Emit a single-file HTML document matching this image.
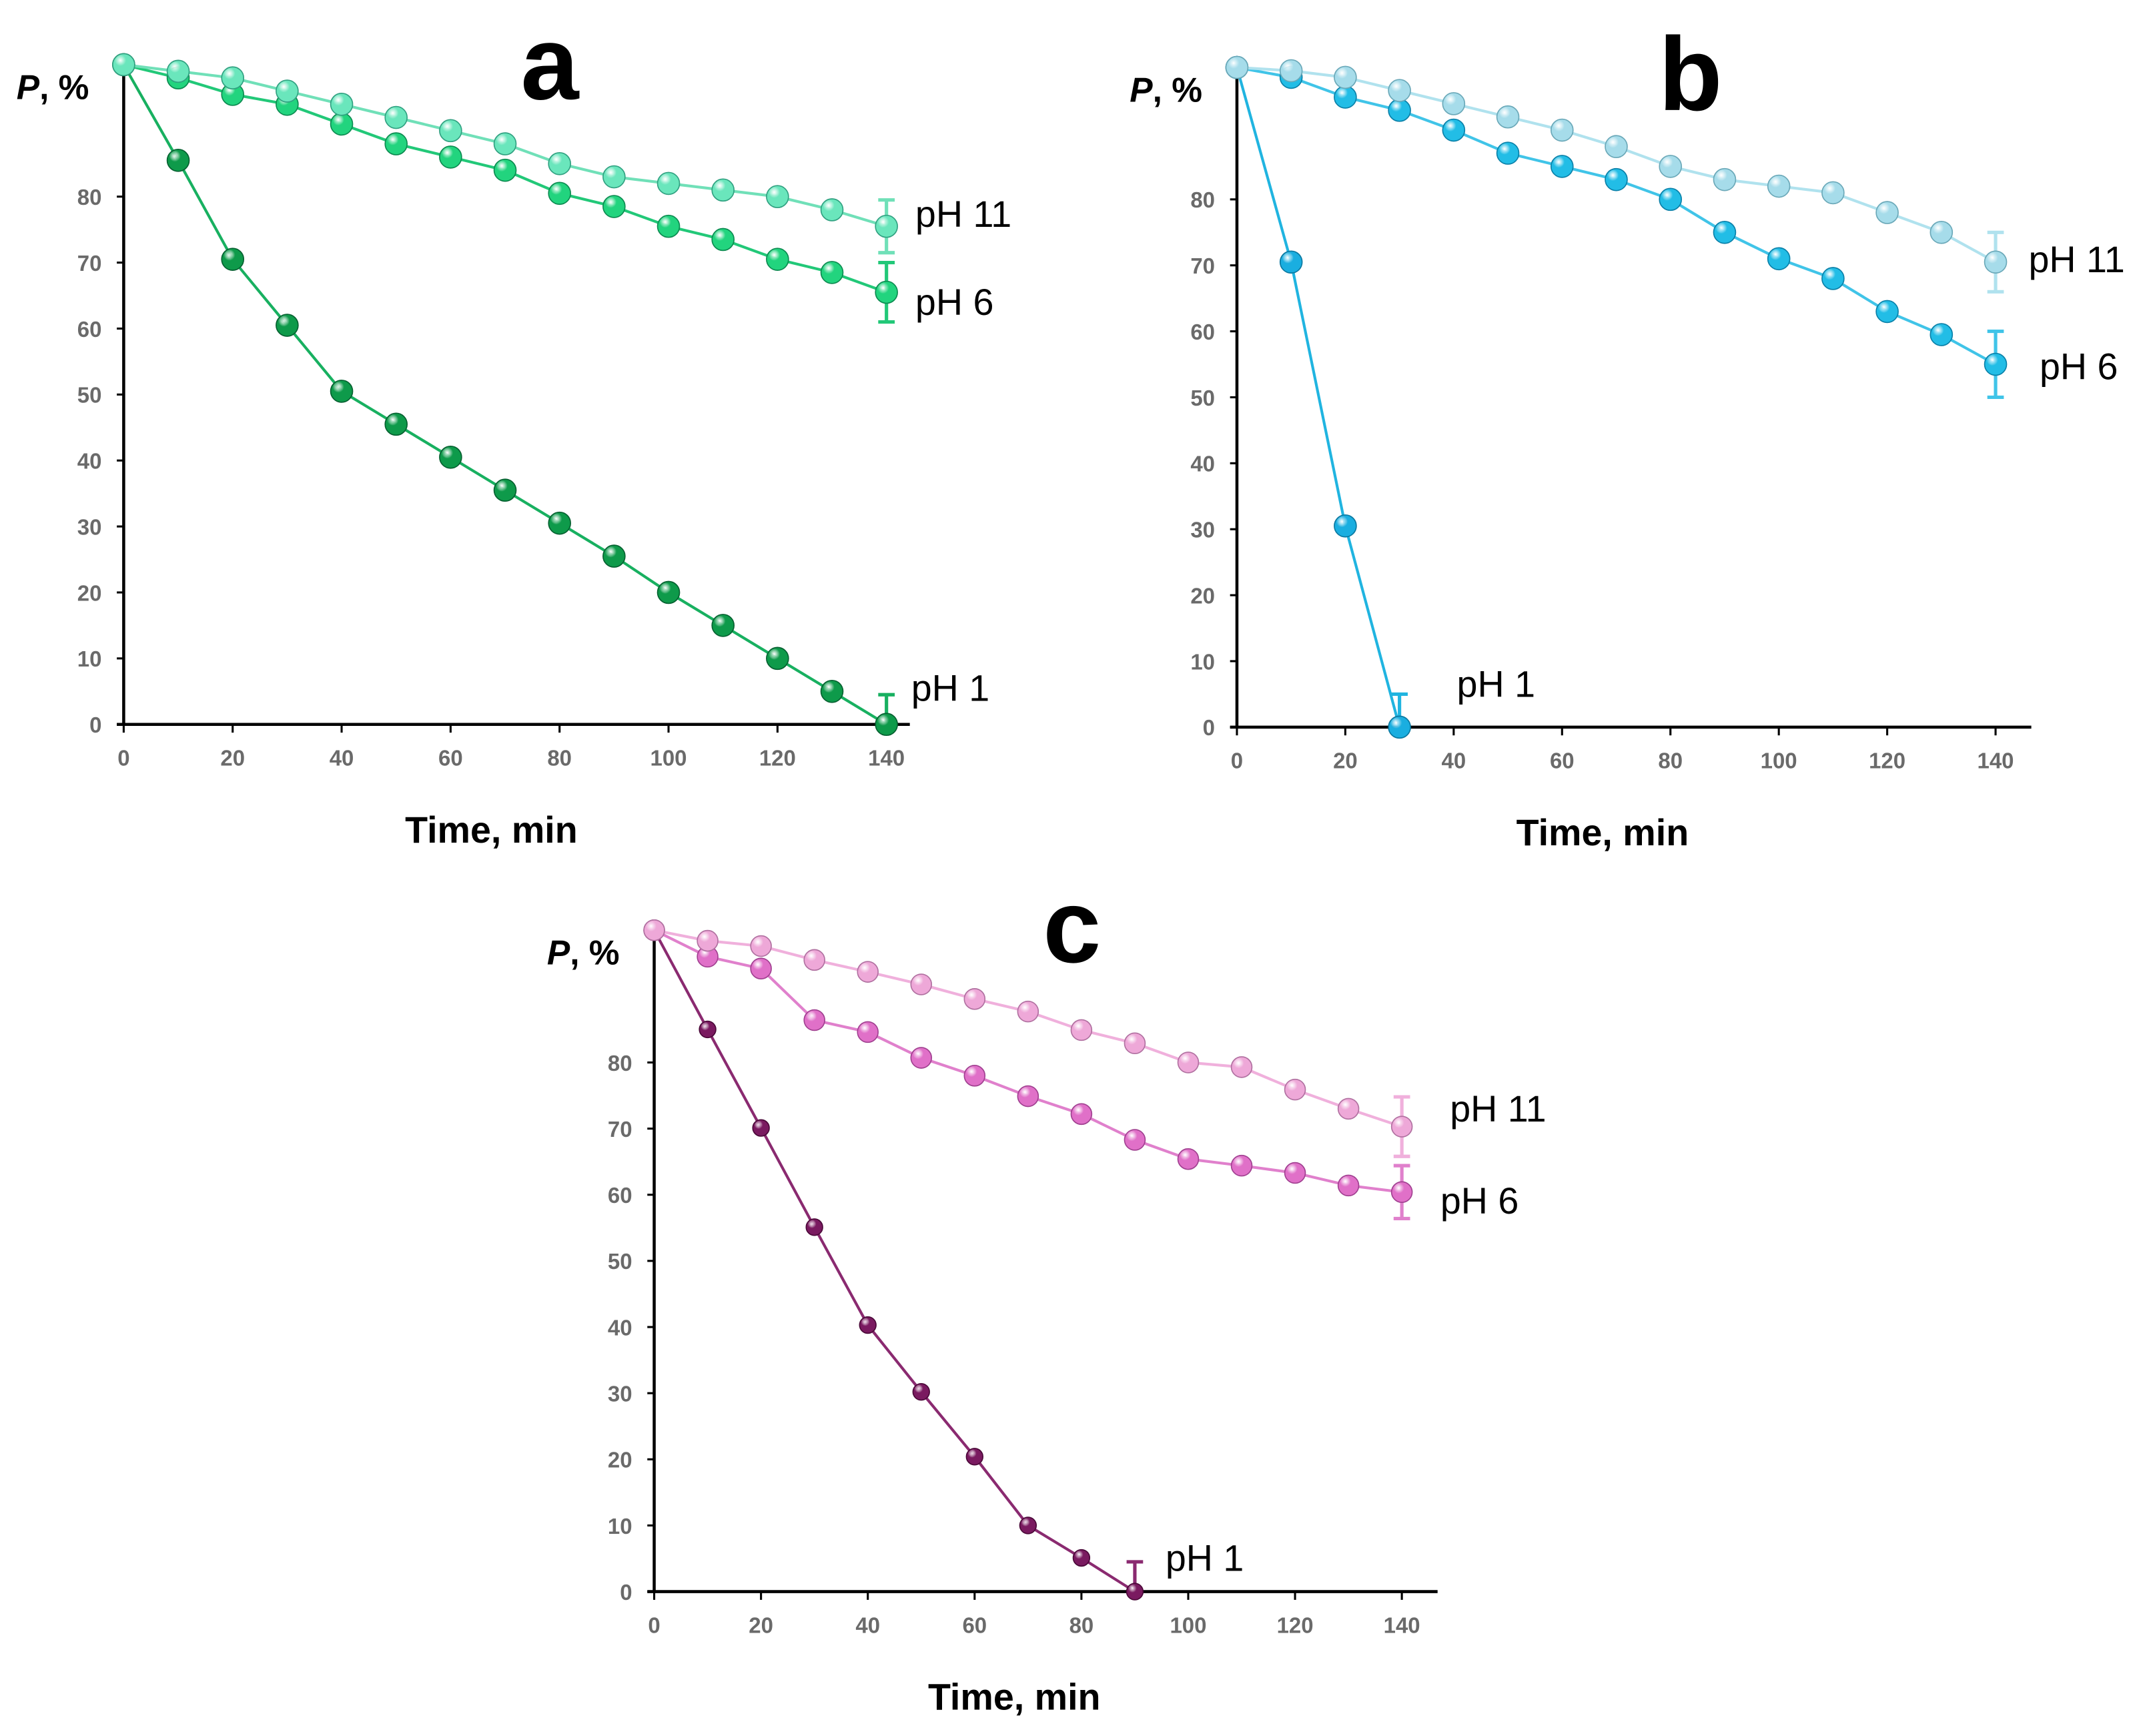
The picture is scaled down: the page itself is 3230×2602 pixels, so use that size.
<!DOCTYPE html>
<html><head><meta charset="utf-8"><style>
html,body{margin:0;padding:0;background:#fff;}
svg{display:block;}
text{font-family:"Liberation Sans",Arial,sans-serif;}
</style></head><body>
<svg id="fig" width="3230" height="2602" viewBox="0 0 1568 1263" xmlns="http://www.w3.org/2000/svg">
<defs></defs>
</svg>
<script>
const timesA = [0,10,20,30,40,50,60,70,80,90,100,110,120,130,140];
const aPH11 = [100,99,98,96,94,92,90,88,85,83,82,81,80,78,75.5];
const aPH6  = [100,98,95.5,94,91,88,86,84,80.5,78.5,75.5,73.5,70.5,68.5,65.5];
const aPH1  = [100,85.5,70.5,60.5,50.5,45.5,40.5,35.5,30.5,25.5,20,15,10,5,0];
const timesB1 = [0,10,20,30];
const bPH11 = [100,99.5,98.5,96.5,94.5,92.5,90.5,88,85,83,82,81,78,75,70.5];
const bPH6  = [100,98.5,95.5,93.5,90.5,87,85,83,80,75,71,68,63,59.5,55];
const bPH1  = [100,70.5,30.5,0];
const timesC1 = [0,10,20,30,40,50,60,70,80,90];
const cPH11 = [100,98.4,97.6,95.5,93.7,91.8,89.6,87.7,84.9,82.9,80,79.3,75.9,73,70.3];
const cPH6  = [100,96,94.2,86.4,84.6,80.7,78,74.9,72.2,68.3,65.4,64.4,63.3,61.4,60.4];
const cPH1  = [100,85,70.1,55.1,40.3,30.2,20.4,10,5.1,0];
const yTicks = [0,10,20,30,40,50,60,70,80];
const xTicks = [0,20,40,60,80,100,120,140];

const NS="http://www.w3.org/2000/svg";
const svg=document.getElementById('fig');
const defs=svg.querySelector('defs');
function mk(tag,attrs,parent){const e=document.createElementNS(NS,tag);for(const k in attrs)e.setAttribute(k,attrs[k]);(parent||svg).appendChild(e);return e;}
let gid=0;
function grad(col){const id='g'+(gid++);const g=mk('radialGradient',{id:id,cx:'0.35',cy:'0.3',r:'0.75'},defs);
mk('stop',{offset:'0','stop-color':'#ffffff','stop-opacity':'0.85'},g);mk('stop',{offset:'0.35','stop-color':col},g);mk('stop',{offset:'1','stop-color':col},g);return 'url(#'+id+')';}

function panel(p){
  const g=mk('g',{});
  
  
  const X=v=>p.x0+(p.x140-p.x0)*v/140;
  const Y=v=>p.y0-(p.y0-p.y80)*v/80;
  const ax=mk('line',{x1:p.x0,y1:p.yTop,x2:p.x0,y2:p.y0,stroke:'#000','stroke-width':2.2},g);
  
  const axx=mk('line',{x1:p.x0-5,y1:p.y0,x2:p.xEnd,y2:p.y0,stroke:'#000','stroke-width':2.2},g);
  
  yTicks.forEach(v=>{
    mk('line',{x1:p.x0-5,y1:Y(v),x2:p.x0,y2:Y(v),stroke:'#000','stroke-width':1.5},g);
    const t=mk('text',{x:p.x0-16,y:Y(v)+6,'text-anchor':'end','font-size':16,'font-weight':'bold',fill:'#6a6a6a'},g);
    t.textContent=v;
  });
  xTicks.forEach(v=>{
    mk('line',{x1:X(v),y1:p.y0,x2:X(v),y2:p.y0+6,stroke:'#000','stroke-width':1.5},g);
    const t=mk('text',{x:X(v),y:p.y0+30,'text-anchor':'middle','font-size':16,'font-weight':'bold',fill:'#6a6a6a'},g);
    t.textContent=v;
  });
  const xt=mk('text',{x:(p.x0+p.x140)/2-10,y:p.y0+86,'text-anchor':'middle','font-size':27,'font-weight':'bold',fill:'#000'},g);
  xt.textContent='Time, min';
  const yt=mk('text',{x:p.x0-78,y:p.y0-(p.y0-p.y80)*100/80+25,'font-size':25,'font-weight':'bold',fill:'#000'},g);
  
  yt.innerHTML='<tspan font-style="italic">P</tspan>, %';
  const lt=mk('text',{x:p.lx,y:p.ly,'text-anchor':'middle','font-size':76,'font-weight':'bold',fill:'#000'},g);
  lt.textContent=p.letter;
  p.series.forEach(s=>{
    const pts=s.t.map((t,i)=>X(t)+','+Y(s.v[i])).join(' ');
    const pl=mk('polyline',{points:pts,fill:'none',stroke:s.line,'stroke-width':2},g);
    
    const li=s.v.length-1, ex=X(s.t[li]);
    const eb=mk('path',{d:'M'+ex+','+Y(s.v[li]+s.eu)+'V'+Y(Math.max(0,s.v[li]-s.ed))+'M'+(ex-6)+','+Y(s.v[li]+s.eu)+'h12'+(s.ed>0?'M'+(ex-6)+','+Y(s.v[li]-s.ed)+'h12':''),stroke:s.line,'stroke-width':2.5,fill:'none'},g);
    
    const fillc=grad(s.col);
    s.v.forEach((v,i)=>{
      const c=mk('circle',{cx:X(s.t[i]),cy:Y(v),r:s.r,fill:fillc,stroke:s.dark,'stroke-width':0.8},g);
      
    });
    const lab=mk('text',{x:s.lx,y:s.ly,'font-size':27,fill:'#000'},g);
    lab.textContent=s.label;
  });
}
panel({letter:'a',x0:90,x140:645,y0:527,y80:143,yTop:40,xEnd:662,lx:400,ly:72,series:[
 {name:'a-ph1',label:'pH 1',t:timesA,v:aPH1,col:'#0e9a4a',line:'#18b060',dark:'#066030',r:8,eu:4.5,ed:0,lx:663,ly:510},
 {name:'a-ph6',label:'pH 6',t:timesA,v:aPH6,col:'#22d47e',line:'#22c878',dark:'#0c8a50',r:8,eu:4.5,ed:4.5,lx:666,ly:229},
 {name:'a-ph11',label:'pH 11',t:timesA,v:aPH11,col:'#6ae6bc',line:'#70e0b8',dark:'#30a080',r:8,eu:4,ed:4,lx:666,ly:165}]});
panel({letter:'b',x0:900,x140:1452,y0:529,y80:145,yTop:48,xEnd:1478,lx:1230,ly:80,series:[
 {name:'b-ph1',label:'pH 1',t:timesB1,v:bPH1,col:'#1aaee0',line:'#20b4e0',dark:'#0a78a0',r:8,eu:5,ed:0,lx:1060,ly:507},
 {name:'b-ph6',label:'pH 6',t:timesA,v:bPH6,col:'#22bde6',line:'#40c4e8',dark:'#0a80a8',r:8,eu:5,ed:5,lx:1484,ly:276},
 {name:'b-ph11',label:'pH 11',t:timesA,v:bPH11,col:'#a6dcea',line:'#b0e2ee',dark:'#6aa8b8',r:8,eu:4.5,ed:4.5,lx:1476,ly:198}]});
panel({letter:'c',x0:476,x140:1020,y0:1158,y80:773,yTop:680,xEnd:1046,lx:780,ly:700,series:[
 {name:'c-ph1',label:'pH 1',t:timesC1,v:cPH1,col:'#7a1a60',line:'#8a2a70',dark:'#4a0838',r:6,eu:4.5,ed:0,lx:848,ly:1143},
 {name:'c-ph6',label:'pH 6',t:timesA,v:cPH6,col:'#e070c8',line:'#e080cc',dark:'#a04090',r:7.5,eu:4,ed:4,lx:1048,ly:883},
 {name:'c-ph11',label:'pH 11',t:timesA,v:cPH11,col:'#eea8d8',line:'#f0b0dc',dark:'#b070a0',r:7.5,eu:4.5,ed:4.5,lx:1055,ly:816}]});
</script>
</body></html>
